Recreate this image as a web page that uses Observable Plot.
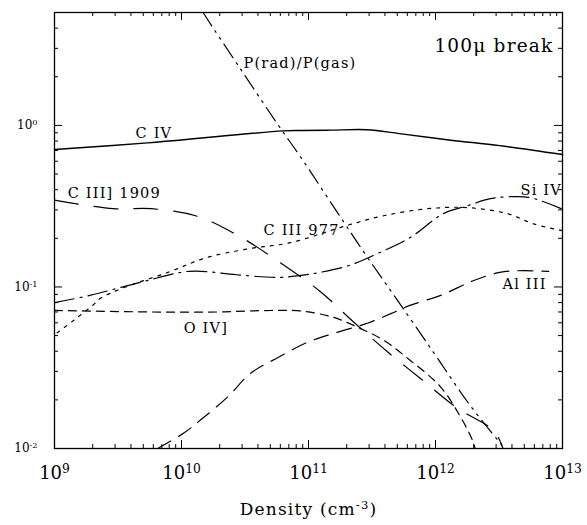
<!DOCTYPE html>
<html><head><meta charset="utf-8">
<script src="https://cdn.jsdelivr.net/npm/d3@7"></script>
<script src="https://cdn.jsdelivr.net/npm/@observablehq/plot@0.6"></script>
<style>body{margin:0;background:#fff;color:#000}</style>
</head><body><div id="chart"></div>
<script>
// ---- data ----
const civDensity = [1e9, 5.4e9, 6.3e10, 8.7e10, 1.5e11, 2.9e11, 5.2e11, 1.32e12, 3.2e12, 1e13];
const civRatio   = [0.71, 0.78, 0.925, 0.93, 0.935, 0.94, 0.89, 0.81, 0.75, 0.66];

const ciii1909Density = [1e9, 2.9e9, 5.8e9, 1.29e10, 2.7e10, 5.8e10, 1.23e11, 2.3e11, 4.3e11, 7.9e11, 1.48e12, 2.9e12, 3.4e12];
const ciii1909Ratio   = [0.345, 0.305, 0.305, 0.276, 0.211, 0.144, 0.094, 0.060, 0.039, 0.0265, 0.0178, 0.0128, 0.0100];

const oivDensity = [1e9, 5.8e9, 1.9e10, 5e10, 8.7e10, 1.58e11, 2.45e11, 3.9e11, 6.3e11, 1.1e12, 1.58e12, 1.95e12, 2.05e12];
const oivRatio   = [0.0716, 0.070, 0.070, 0.0715, 0.071, 0.0648, 0.0562, 0.0468, 0.0352, 0.024, 0.0156, 0.0113, 0.0100];

const aliiiDensity = [6.5e9, 1.05e10, 1.41e10, 2.3e10, 3.5e10, 5.8e10, 9.8e10, 1.58e11, 2.9e11, 4.5e11, 6.3e11, 1.1e12, 2.0e12, 3.2e12, 4.5e12, 7.8e12];
const aliiiRatio   = [0.0100, 0.0125, 0.015, 0.0208, 0.0292, 0.0367, 0.0454, 0.0516, 0.0596, 0.0686, 0.0769, 0.0887, 0.1096, 0.123, 0.126, 0.125];

const sivDensity = [1e9, 1.9e9, 5.0e9, 1.15e10, 2.7e10, 5.8e10, 8.7e10, 1.23e11, 2.1e11, 3.5e11, 6.3e11, 1.15e12, 1.78e12, 2.7e12, 3.9e12, 5.6e12, 1e13];
const sivRatio   = [0.080, 0.0887, 0.108, 0.125, 0.119, 0.1145, 0.118, 0.123, 0.136, 0.161, 0.202, 0.284, 0.318, 0.352, 0.362, 0.357, 0.303];

const ciii977Density = [1.05e9, 1.41e9, 2.0e9, 2.3e9, 3.5e9, 7.8e9, 1.58e10, 3.5e10, 7.2e10, 2.0e11, 3.9e11, 8.7e11, 1.78e12, 3.7e12, 5.9e12, 1e13];
const ciii977Ratio   = [0.052, 0.062, 0.077, 0.085, 0.099, 0.123, 0.152, 0.173, 0.188, 0.24, 0.276, 0.305, 0.31, 0.284, 0.246, 0.223];

const pradDensity = [1.48e10, 1.6e10, 2.92e10, 5.7e10, 8.65e10, 1.89e11, 2.92e11, 5.02e11, 9.64e11, 1.79e12, 3.08e12, 3.49e12];
const pradRatio   = [5.0, 4.54, 2.23, 1.02, 0.639, 0.253, 0.152, 0.0826, 0.0394, 0.0194, 0.0113, 0.0100];

// curve labels
const labelText    = ["C IV", "C III] 1909", "C III 977", "Si IV", "Al III", "O IV]", "P(rad)/P(gas)"];
const labelDensity = [4.35e9, 1.27e9, 4.43e10, 4.67e12, 3.37e12, 1.04e10, 3.08e10];
const labelRatio   = [0.899, 0.378, 0.223, 0.394, 0.1036, 0.0554, 2.43];

const panelTitle = "100\u03bc break";
const panelDensity = [8.49e12], panelRatio = [3.10];
const xLabel = "Density (cm\u207b\u00b3)";

// ticks
const xMajor = [1e9, 1e10, 1e11, 1e12, 1e13];
const yMajor = [1e-2, 1e-1, 1e0];
const mult = [2, 3, 4, 5, 6, 7, 8, 9];
const xMinor = [1e9, 1e10, 1e11, 1e12].flatMap(d => mult.map(m => m * d));
const yMinor = [1e-2, 1e-1, 1e0].flatMap(d => mult.map(m => m * d)).filter(v => v <= 5);

// ---- helpers ----
const supMap = {"-": "\u207b", "0": "\u2070", "1": "\u00b9", "2": "\u00b2", "3": "\u00b3", "4": "\u2074", "5": "\u2075", "6": "\u2076", "7": "\u2077", "8": "\u2078", "9": "\u2079"};
const revMap = {};
Object.keys(supMap).forEach(k => { revMap[supMap[k]] = k; });
const supFmt = v => "10" + String(Math.round(Math.log10(v))).split("").map(c => supMap[c]).join("");
const toRows = (xs, ys) => xs.map((x, i) => ({x: x, y: ys[i]}));
const labelRows = labelText.map((t, i) => ({t: t, x: labelDensity[i], y: labelRatio[i]}));
const titleRows = [{t: panelTitle, x: panelDensity[0], y: panelRatio[0]}];

const PW = 587, PH = 525, MT = 12, MR = 25, MB = 77, ML = 54;
const FRW = PW - ML - MR, FRH = PH - MT - MB;
const MAJ = 8, MIN = 4;
const lineBase = {x: "x", y: "y", stroke: "black", strokeWidth: 1.2, curve: "catmull-rom"};

const plotEl = Plot.plot({
  width: PW, height: PH,
  marginTop: MT, marginRight: MR, marginBottom: MB, marginLeft: ML,
  x: {type: "log", domain: [1e9, 1e13]},
  y: {type: "log", domain: [0.01, 5]},
  style: {fontFamily: "DejaVu Serif"},
  marks: [
    Plot.frame(),
    // inward ticks on all four sides
    Plot.ruleX(xMajor, {x: d => d, insetTop: FRH - MAJ, stroke: "black"}),
    Plot.ruleX(xMinor, {x: d => d, insetTop: FRH - MIN, stroke: "black"}),
    Plot.ruleX(xMajor, {x: d => d, insetBottom: FRH - MAJ, stroke: "black"}),
    Plot.ruleX(xMinor, {x: d => d, insetBottom: FRH - MIN, stroke: "black"}),
    Plot.ruleY(yMajor, {y: d => d, insetRight: FRW - MAJ, stroke: "black"}),
    Plot.ruleY(yMinor, {y: d => d, insetRight: FRW - MIN, stroke: "black"}),
    Plot.ruleY(yMajor, {y: d => d, insetLeft: FRW - MAJ, stroke: "black"}),
    Plot.ruleY(yMinor, {y: d => d, insetLeft: FRW - MIN, stroke: "black"}),
    // tick labels
    Plot.axisX(xMajor, {anchor: "bottom", tickSize: 0, tickPadding: 18, fontSize: 18, tickFormat: supFmt, label: null}),
    Plot.axisY(yMajor, {anchor: "left", tickSize: 0, tickPadding: 17, fontSize: 12, tickFormat: supFmt, label: null}),
    Plot.text([xLabel], {frameAnchor: "bottom", dy: 66, fontSize: 17}),
    // curves
    Plot.line(toRows(civDensity, civRatio), {...lineBase, strokeWidth: 1.4}),
    Plot.line(toRows(ciii1909Density, ciii1909Ratio), {...lineBase, strokeDasharray: "24,16"}),
    Plot.line(toRows(oivDensity, oivRatio), {...lineBase, strokeDasharray: "8,6"}),
    Plot.line(toRows(aliiiDensity, aliiiRatio), {...lineBase, strokeDasharray: "15,9"}),
    Plot.line(toRows(sivDensity, sivRatio), {...lineBase, strokeDasharray: "20,6,2,6"}),
    Plot.line(toRows(ciii977Density, ciii977Ratio), {...lineBase, strokeDasharray: "3,6"}),
    Plot.line(toRows(pradDensity, pradRatio), {...lineBase, strokeDasharray: "16,6,2,6,2,6"}),
    // labels
    Plot.text(labelRows, {x: "x", y: "y", text: "t", textAnchor: "start", fontSize: 14.5}),
    Plot.text(titleRows, {x: "x", y: "y", text: "t", textAnchor: "end", fontSize: 18.5}),
    Plot.frame({stroke: "black", strokeWidth: 1.3})
  ]
});
document.getElementById("chart").appendChild(plotEl);

try {
  // letter spacing for annotation texts (typewriter-like look of the original)
  plotEl.querySelectorAll('g[aria-label="text"] text').forEach(t => t.setAttribute("letter-spacing", "1.2"));
  // render unicode superscripts as raised tspans
  const svgNS = "http://www.w3.org/2000/svg";
  plotEl.querySelectorAll("text").forEach(t => {
    const chars = Array.from(t.textContent);
    let i0 = -1;
    for (let i = 0; i < chars.length; i++) if (revMap[chars[i]] !== undefined) { i0 = i; break; }
    if (i0 < 0) return;
    let i1 = i0;
    while (i1 < chars.length && revMap[chars[i1]] !== undefined) i1++;
    const pre = chars.slice(0, i0).join("");
    const mid = chars.slice(i0, i1).map(c => revMap[c]).join("");
    const post = chars.slice(i1).join("");
    while (t.firstChild) t.removeChild(t.firstChild);
    const a = document.createElementNS(svgNS, "tspan"); a.textContent = pre; t.appendChild(a);
    const b = document.createElementNS(svgNS, "tspan"); b.textContent = mid;
    b.setAttribute("dy", "-0.5em"); b.setAttribute("font-size", "68%"); t.appendChild(b);
    if (post) {
      const c = document.createElementNS(svgNS, "tspan"); c.textContent = post;
      c.setAttribute("dy", "0.34em"); t.appendChild(c);
    }
  });
} catch (e) { console.error(e); }
</script>
</body></html>
